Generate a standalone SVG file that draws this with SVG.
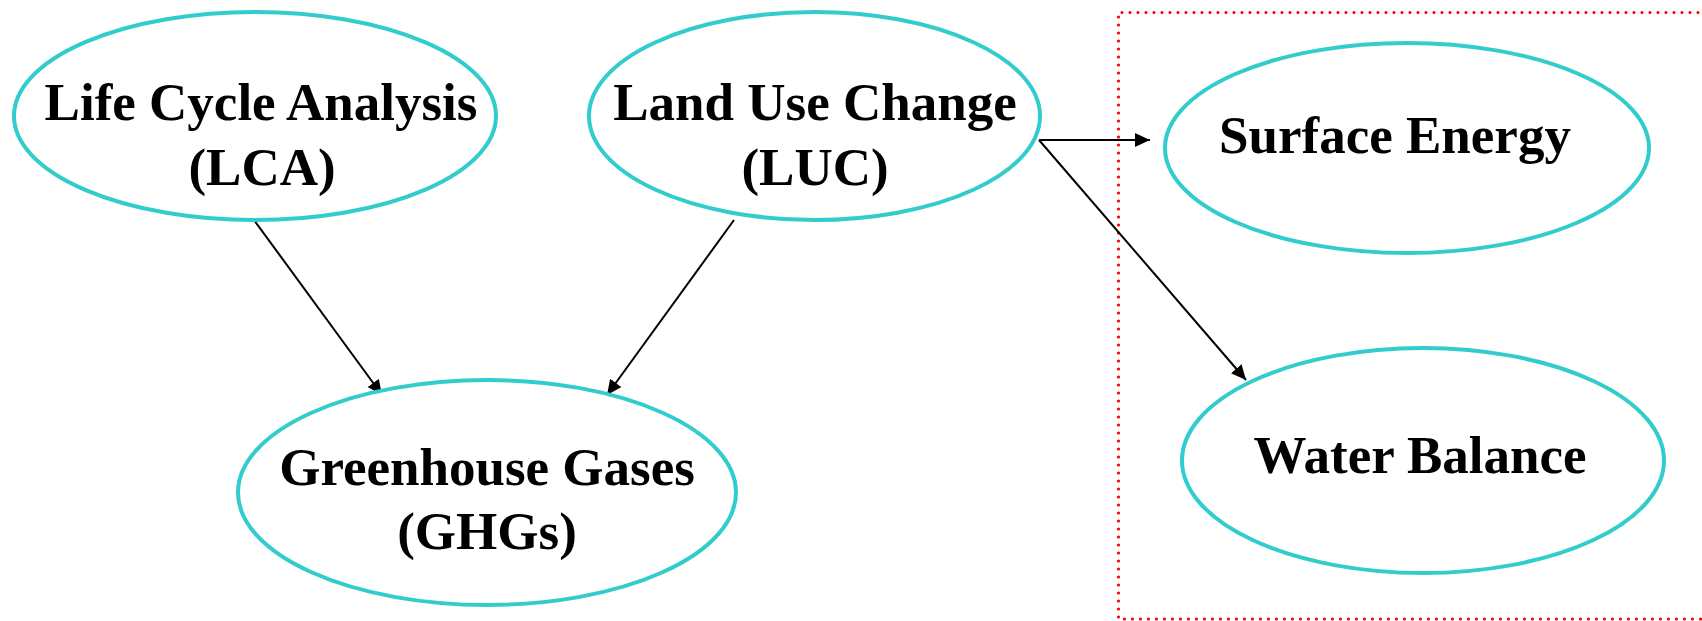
<svg xmlns="http://www.w3.org/2000/svg" width="1702" height="621" viewBox="0 0 1702 621">
<style>
.node ellipse{fill:#ffffff;stroke:#33cccc;stroke-width:4}
.node text{font-family:"Liberation Serif","Times New Roman",serif;font-weight:bold;font-size:53px;fill:#000;text-anchor:middle}
.edge{stroke:#000;stroke-width:2;fill:none;marker-end:url(#arr)}
.box{fill:none;stroke:#ff0000;stroke-width:3.2;stroke-dasharray:0 8;stroke-linecap:round}
</style>
<defs>
<marker id="arr" markerWidth="16" markerHeight="14" refX="15" refY="7" orient="auto" markerUnits="userSpaceOnUse">
<path d="M0,0 L15,7 L0,14 Z" fill="#000"/>
</marker>
</defs>
<rect width="1702" height="621" fill="#ffffff"/>
<path class="box" d="M1706,12.5 H1118.5 V619 H1706"/>
<g id="connectors">
<line class="edge" x1="254" y1="220" x2="382" y2="395"/>
<line class="edge" x1="734" y1="220" x2="607" y2="395"/>
<line class="edge" x1="1039" y1="140" x2="1150" y2="140"/>
<line class="edge" x1="1039" y1="140" x2="1246" y2="380"/>
</g>
<g id="lca" class="node">
<ellipse cx="255" cy="116" rx="241" ry="104"/>
<text x="261" y="120">Life Cycle Analysis</text>
<text x="262" y="185">(LCA)</text>
</g>
<g id="luc" class="node">
<ellipse cx="814.5" cy="116" rx="225.5" ry="104"/>
<text x="815" y="120">Land Use Change</text>
<text x="815" y="185">(LUC)</text>
</g>
<g id="ghg" class="node">
<ellipse cx="487" cy="492.5" rx="249" ry="112.5"/>
<text x="487" y="485">Greenhouse Gases</text>
<text x="487" y="549">(GHGs)</text>
</g>
<g id="surface" class="node">
<ellipse cx="1407" cy="148" rx="242" ry="105"/>
<text x="1395" y="153">Surface Energy</text>
</g>
<g id="water" class="node">
<ellipse cx="1423" cy="460.5" rx="241" ry="112.5"/>
<text x="1420" y="473">Water Balance</text>
</g>
</svg>
